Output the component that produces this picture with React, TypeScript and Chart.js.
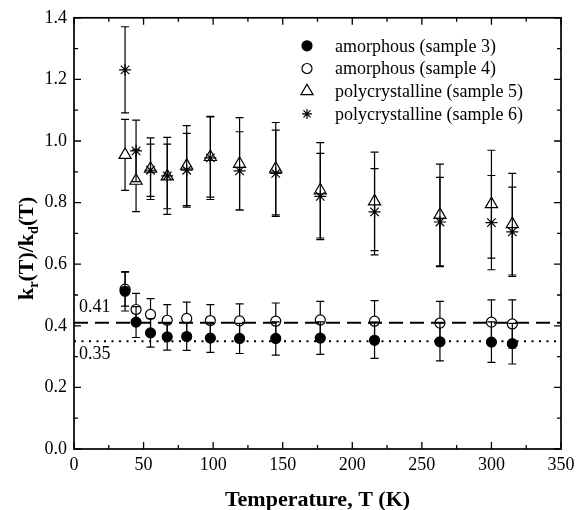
import React, { useEffect, useRef } from 'react';
import { Chart, registerables } from 'chart.js';

Chart.register(...registerables);

// ---------- data ----------
const temperatures = [36.7, 44.6, 55, 67, 81, 98, 119, 145, 177, 216, 263, 300, 315];

const amorphous3 = [0.512, 0.412, 0.377, 0.364, 0.365, 0.36, 0.359, 0.359, 0.36, 0.353, 0.348, 0.347, 0.342];
const amorphous3Err = [0.064, 0.05, 0.046, 0.043, 0.045, 0.046, 0.049, 0.054, 0.053, 0.059, 0.062, 0.066, 0.066];

const amorphous4 = [0.519, 0.453, 0.437, 0.418, 0.424, 0.417, 0.416, 0.415, 0.419, 0.415, 0.409, 0.412, 0.406];
const amorphous4Err = [0.055, 0.052, 0.051, 0.051, 0.053, 0.052, 0.055, 0.059, 0.06, 0.067, 0.07, 0.072, 0.078];

const poly5 = [0.955, 0.871, 0.91, 0.885, 0.92, 0.948, 0.926, 0.91, 0.84, 0.804, 0.76, 0.795, 0.73];
const poly5Err = [0.115, 0.1, 0.1, 0.105, 0.13, 0.13, 0.15, 0.15, 0.155, 0.16, 0.165, 0.175, 0.165];

const poly6 = [1.231, 0.968, 0.905, 0.887, 0.905, 0.945, 0.903, 0.895, 0.82, 0.77, 0.737, 0.735, 0.705];
const poly6Err = [0.14, 0.1, 0.085, 0.125, 0.12, 0.135, 0.127, 0.14, 0.14, 0.14, 0.145, 0.153, 0.145];

const seriesLabels = [
  'amorphous (sample 3)',
  'amorphous (sample 4)',
  'polycrystalline (sample 5)',
  'polycrystalline (sample 6)',
];

const dashedLevel = 0.41;
const dottedLevel = 0.35;
const dashedLabel = '0.41';
const dottedLabel = '0.35';

const xMin = 0;
const xMax = 350;
const xStep = 50;
const xMinorStep = 25;
const yMin = 0;
const yMax = 1.4;
const yStep = 0.2;
const yMinorStep = 0.1;

const xTitle = 'Temperature, T (K)';
// y title pieces: [text, isSubscript]
const yTitleParts: [string, boolean][] = [
  ['k', false],
  ['r', true],
  ['(T)/k', false],
  ['d', true],
  ['(T)', false],
];

// ---------- styling ----------
const FONT = '"Liberation Serif", "Times New Roman", serif';

type Marker = 'circle' | 'triangle' | 'star';
const markers: Marker[] = ['circle', 'circle', 'triangle', 'star'];
const markerRadius = [5, 5, 7, 6];
const markerFill = ['#000', 'rgba(0,0,0,0)', 'rgba(0,0,0,0)', 'rgba(0,0,0,0)'];
const barGapTop = [5, 5, 7, 0];
const barGapBottom = [5, 5, 3.5, 0];

const seriesValues = [amorphous3, amorphous4, poly5, poly6];
const seriesErrors = [amorphous3Err, amorphous4Err, poly5Err, poly6Err];

function drawMarker(ctx: CanvasRenderingContext2D, kind: Marker, x: number, y: number, r: number, fill: string) {
  ctx.save();
  ctx.strokeStyle = '#000';
  ctx.fillStyle = fill;
  ctx.lineWidth = 1.2;
  ctx.beginPath();
  if (kind === 'circle') {
    ctx.arc(x, y, r, 0, Math.PI * 2);
    ctx.fill();
    ctx.stroke();
  } else if (kind === 'triangle') {
    for (let k = 0; k < 3; k++) {
      const a = (k * 2 * Math.PI) / 3;
      const px = x + Math.sin(a) * r;
      const py = y - Math.cos(a) * r;
      if (k === 0) ctx.moveTo(px, py);
      else ctx.lineTo(px, py);
    }
    ctx.closePath();
    ctx.stroke();
  } else {
    for (let k = 0; k < 4; k++) {
      const a = (k * Math.PI) / 4;
      ctx.moveTo(x + Math.cos(a) * r, y + Math.sin(a) * r);
      ctx.lineTo(x - Math.cos(a) * r, y - Math.sin(a) * r);
    }
    ctx.stroke();
  }
  ctx.restore();
}

const errorBarPlugin = {
  id: 'errorBars',
  beforeDatasetsDraw(chart: any) {
    const { ctx, scales } = chart;
    const xs = scales.x;
    const ys = scales.y;
    ctx.save();
    ctx.strokeStyle = '#000';
    ctx.lineWidth = 1.2;
    seriesValues.forEach((vals, s) => {
      const errs = seriesErrors[s];
      vals.forEach((v, i) => {
        const px = xs.getPixelForValue(temperatures[i]);
        const pc = ys.getPixelForValue(v);
        const pt = ys.getPixelForValue(v + errs[i]);
        const pb = ys.getPixelForValue(v - errs[i]);
        ctx.beginPath();
        ctx.moveTo(px, pc - barGapTop[s]);
        ctx.lineTo(px, pt);
        ctx.moveTo(px, pc + barGapBottom[s]);
        ctx.lineTo(px, pb);
        ctx.moveTo(px - 4, pt);
        ctx.lineTo(px + 4, pt);
        ctx.moveTo(px - 4, pb);
        ctx.lineTo(px + 4, pb);
        ctx.stroke();
      });
    });
    ctx.restore();
  },
};

const framePlugin = {
  id: 'frame',
  afterDraw(chart: any) {
    const { ctx, chartArea: a, scales } = chart;
    const xs = scales.x;
    const ys = scales.y;
    ctx.save();
    ctx.strokeStyle = '#000';
    ctx.lineWidth = 1.7;
    ctx.strokeRect(a.left, a.top, a.right - a.left, a.bottom - a.top);
    ctx.lineWidth = 1.3;
    ctx.beginPath();
    for (let v = xMin; v <= xMax + 1e-9; v += xMinorStep) {
      const px = xs.getPixelForValue(v);
      const len = Math.abs(v % xStep) < 1e-6 ? 7 : 4;
      ctx.moveTo(px, a.bottom);
      ctx.lineTo(px, a.bottom - len);
      ctx.moveTo(px, a.top);
      ctx.lineTo(px, a.top + len);
    }
    const nY = Math.round((yMax - yMin) / yMinorStep);
    for (let k = 0; k <= nY; k++) {
      const v = yMin + k * yMinorStep;
      const py = ys.getPixelForValue(v);
      const len = k % 2 === 0 ? 7 : 4;
      ctx.moveTo(a.left, py);
      ctx.lineTo(a.left + len, py);
      ctx.moveTo(a.right, py);
      ctx.lineTo(a.right - len, py);
    }
    ctx.stroke();

    // level labels
    ctx.fillStyle = '#000';
    ctx.font = `18px ${FONT}`;
    ctx.textAlign = 'left';
    ctx.textBaseline = 'middle';
    const lx = xs.getPixelForValue(xMin) + 5;
    ctx.fillText(dashedLabel, lx, ys.getPixelForValue(dashedLevel) - 15);
    ctx.fillText(dottedLabel, lx, ys.getPixelForValue(dottedLevel) + 13);

    // legend
    const legX = a.left + 233;
    const legY = a.top + 28;
    const rowH = 22.7;
    seriesLabels.forEach((lab, s) => {
      const y = legY + s * rowH;
      drawMarker(ctx, markers[s], legX, y, markers[s] === 'triangle' ? 7 : 5, markerFill[s]);
      ctx.fillStyle = '#000';
      ctx.font = `18px ${FONT}`;
      ctx.textAlign = 'left';
      ctx.textBaseline = 'middle';
      ctx.fillText(lab, legX + 28, y + 1);
    });

    // x title
    ctx.font = `bold 22px ${FONT}`;
    ctx.textAlign = 'center';
    ctx.textBaseline = 'alphabetic';
    ctx.fillText(xTitle, (a.left + a.right) / 2, 506);

    // y title (rotated, with subscripts)
    const bigFont = `bold 22px ${FONT}`;
    const smallFont = `bold 14px ${FONT}`;
    let total = 0;
    yTitleParts.forEach(([t, sub]) => {
      ctx.font = sub ? smallFont : bigFont;
      total += ctx.measureText(t).width;
    });
    ctx.save();
    ctx.translate(33, (a.top + a.bottom) / 2 + 15);
    ctx.rotate(-Math.PI / 2);
    ctx.textAlign = 'left';
    let cx = -total / 2;
    yTitleParts.forEach(([t, sub]) => {
      ctx.font = sub ? smallFont : bigFont;
      ctx.fillText(t, cx, sub ? 5 : 0);
      cx += ctx.measureText(t).width;
    });
    ctx.restore();
    ctx.restore();
  },
};

export default function App() {
  const canvasRef = useRef<HTMLCanvasElement | null>(null);

  useEffect(() => {
    if (!canvasRef.current) return;
    const scatterSets = seriesValues.map((vals, s) => ({
      type: 'scatter' as const,
      label: seriesLabels[s],
      data: temperatures.map((t, i) => ({ x: t, y: vals[i] })),
      pointStyle: markers[s],
      pointRadius: markerRadius[s],
      pointBackgroundColor: markerFill[s],
      pointBorderColor: '#000',
      pointBorderWidth: 1.2,
      showLine: false,
    }));
    const levelSets = [
      {
        type: 'line' as const,
        label: 'dashed',
        data: [
          { x: xMin, y: dashedLevel },
          { x: xMax, y: dashedLevel },
        ],
        borderColor: '#000',
        borderWidth: 2,
        borderDash: [14, 7],
        pointRadius: 0,
        showLine: true,
      },
      {
        type: 'line' as const,
        label: 'dotted',
        data: [
          { x: xMin, y: dottedLevel },
          { x: xMax, y: dottedLevel },
        ],
        borderColor: '#000',
        borderWidth: 2,
        borderDash: [2, 5.5],
        pointRadius: 0,
        showLine: true,
      },
    ];

    const chart = new Chart(canvasRef.current, {
      type: 'scatter',
      data: { datasets: [...scatterSets, ...levelSets] as any },
      options: {
        animation: false,
        responsive: false,
        layout: { padding: { left: 0, top: 14, right: 24, bottom: 0 } },
        plugins: {
          legend: { display: false },
          tooltip: { enabled: false },
        },
        scales: {
          x: {
            type: 'linear',
            min: xMin,
            max: xMax,
            grid: { display: false, drawTicks: false },
            border: { display: false },
            ticks: {
              stepSize: xStep,
              color: '#000',
              font: { family: FONT, size: 18 },
              padding: 5,
              maxRotation: 0,
            },
            afterFit: (scale: any) => {
              scale.height = 61;
            },
          },
          y: {
            type: 'linear',
            min: yMin,
            max: yMax,
            grid: { display: false, drawTicks: false },
            border: { display: false },
            ticks: {
              stepSize: yStep,
              color: '#000',
              font: { family: FONT, size: 18 },
              padding: 7,
              callback: (v: any) => Number(v).toFixed(1),
            },
            afterFit: (scale: any) => {
              scale.width = 74;
            },
          },
        },
      },
      plugins: [errorBarPlugin, framePlugin],
    });
    return () => chart.destroy();
  }, []);

  return (
    <div style={{ position: 'fixed', left: 0, top: 0, width: 585, height: 510, background: '#fff' }}>
      <canvas ref={canvasRef} width={585} height={510} style={{ width: 585, height: 510 }} />
    </div>
  );
}
